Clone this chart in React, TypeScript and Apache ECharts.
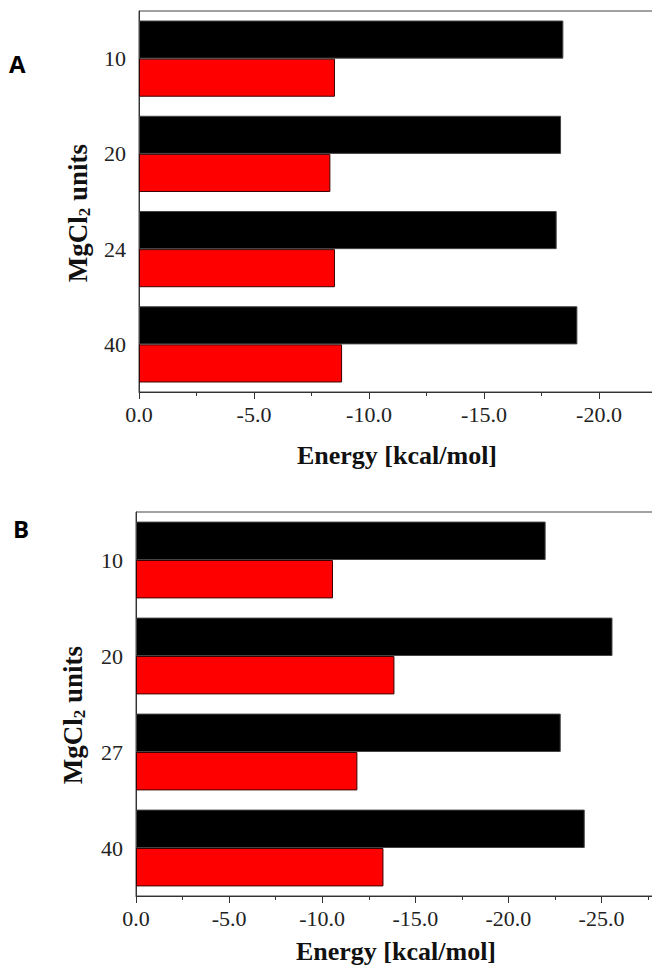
import React, { useEffect, useRef } from "react";
import * as echarts from "echarts";

// Panel A
const catsA = ["10", "20", "24", "40"];
const blackA = [-18.45, -18.35, -18.16, -19.06];
const redA = [-8.52, -8.32, -8.52, -8.83];

// Panel B
const catsB = ["10", "20", "27", "40"];
const blackB = [-22.0, -25.59, -22.81, -24.1];
const redB = [-10.58, -13.88, -11.89, -13.29];

const SERIF = "Liberation Serif";
const SANS = "Open Sans";
const AXIS_COLOR = "#333";

function xAxisCfg(gridIndex: number, min: number) {
  return {
    type: "value",
    gridIndex,
    inverse: true,
    min,
    max: 0,
    interval: 5,
    axisLine: { show: true, lineStyle: { color: AXIS_COLOR, width: 1 } },
    axisTick: { show: true, length: 7, lineStyle: { color: AXIS_COLOR } },
    minorTick: { show: true, splitNumber: 2, length: 4, lineStyle: { color: AXIS_COLOR } },
    splitLine: { show: false },
    minorSplitLine: { show: false },
    axisLabel: {
      margin: 11,
      fontFamily: SERIF,
      fontSize: 22,
      color: "#222",
      showMinLabel: false,
      formatter: (v: number) => v.toFixed(1),
    },
  };
}

function yAxisCfg(gridIndex: number, cats: string[]) {
  return {
    type: "category",
    gridIndex,
    inverse: true,
    data: cats,
    axisLine: { show: true, lineStyle: { color: AXIS_COLOR, width: 1 } },
    axisTick: { show: false },
    splitLine: { show: false },
    axisLabel: { margin: 13, fontFamily: SERIF, fontSize: 22, color: "#222" },
  };
}

function barPair(idx: number, black: number[], red: number[]) {
  const common = {
    type: "bar",
    xAxisIndex: idx,
    yAxisIndex: idx,
    barGap: "0%",
    barCategoryGap: "20%",
  };
  return [
    { ...common, name: "black" + idx, data: black, itemStyle: { color: "#000", borderColor: "#444", borderWidth: 1 } },
    { ...common, name: "red" + idx, data: red, itemStyle: { color: "#ff0000", borderColor: "#3a0000", borderWidth: 1 } },
  ];
}

function yTitle(x: number, y: number) {
  return {
    type: "text",
    x,
    y,
    rotation: Math.PI / 2,
    style: {
      text: "{m|MgCl}{s|2}{m| units}",
      align: "center",
      verticalAlign: "middle",
      rich: {
        m: { fontFamily: SERIF, fontSize: 27, fontWeight: "bold", fill: "#111", lineHeight: 30 },
        s: { fontFamily: SERIF, fontSize: 17, fontWeight: "bold", fill: "#111", lineHeight: 30, verticalAlign: "bottom", padding: [10, 0, 0, 0] },
      },
    },
  };
}

function xTitle(x: number, y: number) {
  return {
    type: "text",
    x,
    y,
    style: {
      text: "Energy [kcal/mol]",
      fontFamily: SERIF,
      fontSize: 26,
      fontWeight: "bold",
      fill: "#111",
      align: "center",
      verticalAlign: "middle",
    },
  };
}

function panelLetter(text: string, x: number, y: number) {
  return {
    type: "text",
    x,
    y,
    style: { text, fontFamily: SANS, fontSize: 24, fontWeight: "bold", fill: "#000", align: "left", verticalAlign: "middle" },
  };
}

export default function App() {
  const ref = useRef<HTMLDivElement>(null);
  useEffect(() => {
    if (!ref.current) return;
    const chart = echarts.init(ref.current, null, { renderer: "svg" });
    chart.setOption({
      animation: false,
      backgroundColor: "#fff",
      grid: [
        { left: 139, top: 11, width: 575, height: 381, show: true, borderColor: "#444", borderWidth: 1, outerBoundsMode: "none" },
        { left: 136, top: 512, width: 558.6, height: 384, show: true, borderColor: "#444", borderWidth: 1, outerBoundsMode: "none" },
      ],
      xAxis: [xAxisCfg(0, -25), xAxisCfg(1, -30)],
      yAxis: [yAxisCfg(0, catsA), yAxisCfg(1, catsB)],
      series: [...barPair(0, blackA, redA), ...barPair(1, blackB, redB)],
      graphic: [
        panelLetter("A", 9, 63),
        panelLetter("B", 13, 528),
        yTitle(78, 213),
        yTitle(73, 715),
        xTitle(397, 455),
        xTitle(396, 951),
      ],
    });
    return () => chart.dispose();
  }, []);
  return <div ref={ref} style={{ position: "absolute", left: 0, top: 0, width: 652, height: 969 }} />;
}
